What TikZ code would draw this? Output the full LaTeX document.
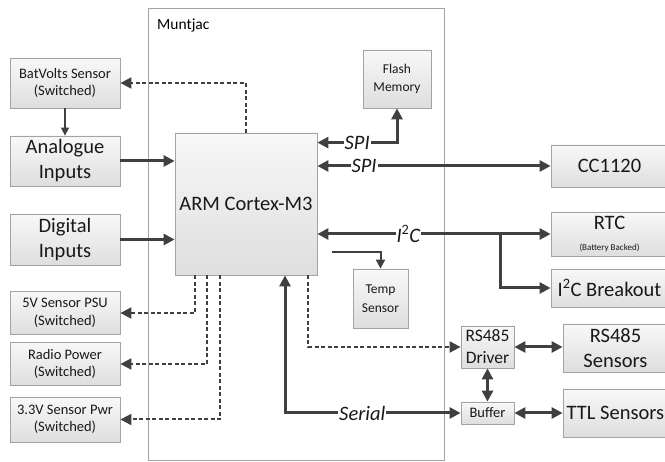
\documentclass[tikz,border=0pt]{standalone}
\usepackage{fontspec}
\setmainfont{Carlito}
\usetikzlibrary{arrows.meta}
\definecolor{boxline}{HTML}{A3A3A3}
\definecolor{wire}{HTML}{404040}
\definecolor{boxtop}{HTML}{F8F8F8}
\definecolor{boxbot}{HTML}{DEDEDE}
\newcommand\bigtxt{\fontsize{20.5}{25}\selectfont}
\newcommand\midtxt{\fontsize{17.5}{22}\selectfont}
\newcommand\smltxt{\fontsize{14.5}{17.5}\selectfont}
\newcommand\tnytxt{\fontsize{13.5}{18.5}\selectfont}
\begin{document}
\begin{tikzpicture}
			[x=1pt,y=-1pt,
			blk/.style={rectangle,draw=boxline,line width=0.8pt,top color=boxtop,bottom color=boxbot,align=center,inner sep=1pt,text=black!90},
			bus/.style={draw=wire,line width=3pt},
			ctl/.style={draw=wire,line width=2pt,dash pattern=on 4pt off 2.5pt},
			tag/.style={fill=white,inner sep=1pt,font=\bigtxt\itshape,text=black!90},
			>={Triangle[length=11pt,width=11pt]}]
			\useasboundingbox(0,0)rectangle(665,462);
			\node[draw=boxline,line width=0.8pt,fill=white,minimum width=296pt,minimum height=452pt,name=muntjac]at(296,234){};
			\node[anchor=west,inner sep=0pt,font=\fontsize{15.5}{18}\selectfont,name=muntjaclbl]at(157,25){Muntjac};
			\node[blk,name=arm,minimum width=142pt,minimum height=142pt,font=\bigtxt]at(246,204){ARM Cortex-M3};
			\node[blk,name=batvolts,minimum width=110pt,minimum height=50pt,font=\smltxt]at(65,83){BatVolts Sensor\\(Switched)};
			\node[blk,name=analogue,minimum width=110pt,minimum height=50pt,font=\bigtxt]at(65,161){Analogue\\Inputs};
			\node[blk,name=digital,minimum width=110pt,minimum height=51pt,font=\bigtxt]at(65,239.5){Digital\\Inputs};
			\node[blk,name=psufive,minimum width=110pt,minimum height=43pt,font=\smltxt]at(65,313){5V Sensor PSU\\(Switched)};
			\node[blk,name=radio,minimum width=110pt,minimum height=43pt,font=\smltxt]at(65,364){Radio Power\\(Switched)};
			\node[blk,name=psuthree,minimum width=110pt,minimum height=45pt,font=\smltxt]at(65,419.5){3.3V Sensor Pwr\\(Switched)};
			\node[blk,name=flash,minimum width=68pt,minimum height=58pt,font=\tnytxt]at(397,79){Flash\\Memory};
			\node[blk,name=temp,minimum width=55pt,minimum height=59pt,font=\tnytxt]at(380.5,298.5){Temp\\Sensor};
			\node[blk,name=cc,minimum width=117pt,minimum height=42pt,font=\bigtxt]at(609.5,166){CC1120};
			\node[blk,name=rtc,minimum width=117pt,minimum height=44pt,font=\bigtxt]at(609.5,234){RTC\\[-4pt]{\fontsize{9}{10}\selectfont(Battery Backed)}};
			\node[blk,name=breakout,minimum width=117pt,minimum height=38pt,font=\bigtxt]at(609.5,288){I\textsuperscript{2}C Breakout};
			\node[blk,name=rssens,minimum width=105pt,minimum height=48pt,font=\bigtxt]at(615.5,348){RS485\\Sensors};
			\node[blk,name=ttl,minimum width=105pt,minimum height=48pt,font=\bigtxt]at(615.5,413){TTL Sensors};
			\node[blk,name=driver,minimum width=53pt,minimum height=42pt,font=\midtxt]at(487.5,347){RS485\\Driver};
			\node[blk,name=buffer,minimum width=53pt,minimum height=22pt,font=\smltxt]at(487.5,413){Buffer};
			\coordinate(i2csplit)at(500,234);
			% control lines
			\draw[ctl,->](arm.north)|-(batvolts.east);
			\draw[ctl,->]([xshift=-51pt]arm.south)|-(psufive.east);
			\draw[ctl,->]([xshift=-39pt]arm.south)|-(radio.east);
			\draw[ctl,->]([xshift=-26pt]arm.south)|-(psuthree.east);
			\draw[ctl,->]([xshift=-9pt]arm.south east)|-(driver.west);
			\draw[draw=wire,line width=1.5pt,-{Triangle[length=8pt,width=8pt]}](batvolts)--(analogue);
			% buses
			\draw[bus,->](analogue)--(analogue-|arm.west);
			\draw[bus,->](digital)--(digital-|arm.west);
			\draw[bus,<->](flash.south)|-([yshift=-10pt]arm.north east)node[tag,pos=0.75,name=spia]{SPI};
			\draw[bus,<->](cc.west-|arm.east)--(cc.west)node[tag,pos=0.2,name=spib]{SPI};
			\draw[bus,<->](rtc.west-|arm.east)--(rtc.west)node[tag,pos=0.39,name=i2c]{I\textsuperscript{\upshape 2}C};
			\draw[bus,->](i2csplit)|-(breakout.west);
			\draw[draw=wire,line width=2pt,-{Triangle[length=9pt,width=9pt]},shorten <=15pt]([yshift=23pt]arm.south east)-|(temp.north);
			\draw[bus,<->]([xshift=39pt]arm.south)|-(buffer.west)node[tag,pos=0.72,name=serial]{Serial};
			\draw[bus,<->](driver.east)--(driver.east-|rssens.west);
			\draw[bus,<->](driver.south)--(buffer.north);
			\draw[bus,<->](buffer.east)--(ttl.west);
		\end{tikzpicture}
\end{document}
